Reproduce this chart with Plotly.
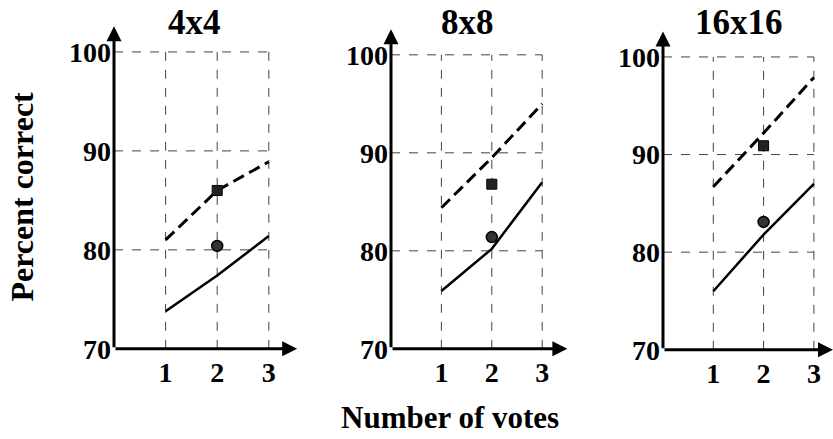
import plotly.graph_objects as go

# Accuracy vs number of votes for three block sizes
votes = [1, 2, 3]
panel_titles = ["4x4", "8x8", "16x16"]

dashed_4 = [81.0, 86.0, 88.9]
dashed_8 = [84.4, 89.5, 95.0]
dashed_16 = [86.7, 92.2, 97.9]

solid_4 = [73.8, 77.4, 81.4]
solid_8 = [75.9, 80.2, 87.0]
solid_16 = [76.0, 81.8, 87.0]

square_x = 2
square_4, square_8, square_16 = 86.0, 86.8, 90.9
circle_x = 2
circle_4, circle_8, circle_16 = 80.4, 81.4, 83.1

y_ticks = [70, 80, 90, 100]
x_ticks = [1, 2, 3]

dashed = [dashed_4, dashed_8, dashed_16]
solid = [solid_4, solid_8, solid_16]
squares = [square_4, square_8, square_16]
circles = [circle_4, circle_8, circle_16]

W, H = 833, 439
# pixel geometry of each panel: (x0 px, px per vote, x max, y70 px, px per unit)
geom = [
    (114, 51.6, 3.55, 362, 10.27),
    (391, 50.4, 3.50, 362, 10.17),
    (663, 50.3, 3.38, 363, 10.13),
]
y_top = 102.6

font_family = "Liberation Serif, serif"
fig = go.Figure()

for i in range(3):
    xa = "x" if i == 0 else f"x{i+1}"
    ya = "y" if i == 0 else f"y{i+1}"
    x0, pxu, xmax, y70, pyu = geom[i]
    left = x0 / W
    right = (x0 + pxu * xmax) / W
    bottom = (H - y70) / H
    top = (H - (y70 - pyu * (y_top - 70))) / H
    kx = "xaxis" if i == 0 else f"xaxis{i+1}"
    ky = "yaxis" if i == 0 else f"yaxis{i+1}"
    fig.layout[kx] = dict(
        domain=[left, min(right, 1.0)], range=[0, xmax], anchor=ya,
        tickvals=x_ticks, ticktext=[f"<b>{v}</b>" for v in x_ticks],
        showgrid=False, zeroline=False, showline=False, ticks="",
        ticklabelstandoff=4,
        tickfont=dict(family=font_family, size=28, color="black"),
        fixedrange=True,
    )
    fig.layout[ky] = dict(
        domain=[bottom, top], range=[70, y_top], anchor=xa,
        tickvals=y_ticks, ticktext=[f"<b>{v}</b>" for v in y_ticks],
        showgrid=False, zeroline=False, showline=False, ticks="",
        ticklabelstandoff=2,
        tickfont=dict(family=font_family, size=28, color="black"),
        fixedrange=True,
    )

    # dashed grid box
    for gy in [80, 90, 100]:
        fig.add_shape(type="line", xref=xa, yref=ya, x0=0, x1=3, y0=gy, y1=gy,
                      line=dict(color="#444444", width=1, dash="dash"), layer="below")
    for gx in x_ticks:
        fig.add_shape(type="line", xref=xa, yref=ya, x0=gx, x1=gx, y0=70, y1=100,
                      line=dict(color="#444444", width=1, dash="dash"), layer="below")

    fig.add_trace(go.Scatter(x=votes, y=dashed[i], mode="lines", xaxis=xa, yaxis=ya,
                             line=dict(color="black", width=3, dash="12px,6px"),
                             showlegend=False, hoverinfo="skip"))
    fig.add_trace(go.Scatter(x=votes, y=solid[i], mode="lines", xaxis=xa, yaxis=ya,
                             line=dict(color="black", width=2.5),
                             showlegend=False, hoverinfo="skip"))
    fig.add_trace(go.Scatter(x=[square_x], y=[squares[i]], mode="markers", xaxis=xa, yaxis=ya,
                             marker=dict(symbol="square", size=10, color="#222222",
                                         line=dict(color="black", width=1)),
                             showlegend=False, hoverinfo="skip"))
    fig.add_trace(go.Scatter(x=[circle_x], y=[circles[i]], mode="markers", xaxis=xa, yaxis=ya,
                             marker=dict(symbol="circle", size=11, color="#333333",
                                         line=dict(color="black", width=1.5)),
                             showlegend=False, hoverinfo="skip"))

    # axis arrows
    fig.add_annotation(x=0, y=y_top, ax=0, ay=70, xref=xa, yref=ya, axref=xa, ayref=ya,
                       showarrow=True, arrowhead=2, arrowsize=1, arrowwidth=3,
                       arrowcolor="black", text="")
    fig.add_annotation(x=xmax, y=70, ax=0, ay=70, xref=xa, yref=ya, axref=xa, ayref=ya,
                       showarrow=True, arrowhead=2, arrowsize=1, arrowwidth=3,
                       arrowcolor="black", text="")

# panel titles
title_pos = [194, 467, 739]
for t, cx in zip(panel_titles, title_pos):
    fig.add_annotation(x=cx / W, y=1 - 23 / H, xref="paper", yref="paper", text=f"<b>{t}</b>",
                       showarrow=False, xanchor="center", yanchor="middle",
                       font=dict(family=font_family, size=35, color="black"))

fig.add_annotation(x=22 / W, y=1 - 204 / H, xref="paper", yref="paper",
                   text="<b>Percent correct</b>", textangle=-90, showarrow=False,
                   xanchor="center", yanchor="middle",
                   font=dict(family=font_family, size=32, color="black"))
fig.add_annotation(x=450 / W, y=1 - 418 / H, xref="paper", yref="paper",
                   text="<b>Number of votes</b>", showarrow=False,
                   xanchor="center", yanchor="middle", yshift=-15,
                   font=dict(family=font_family, size=31, color="black"))

fig.update_layout(width=W, height=H, margin=dict(l=0, r=0, t=0, b=0),
                  paper_bgcolor="white", plot_bgcolor="white")

fig.write_html("out.html")
